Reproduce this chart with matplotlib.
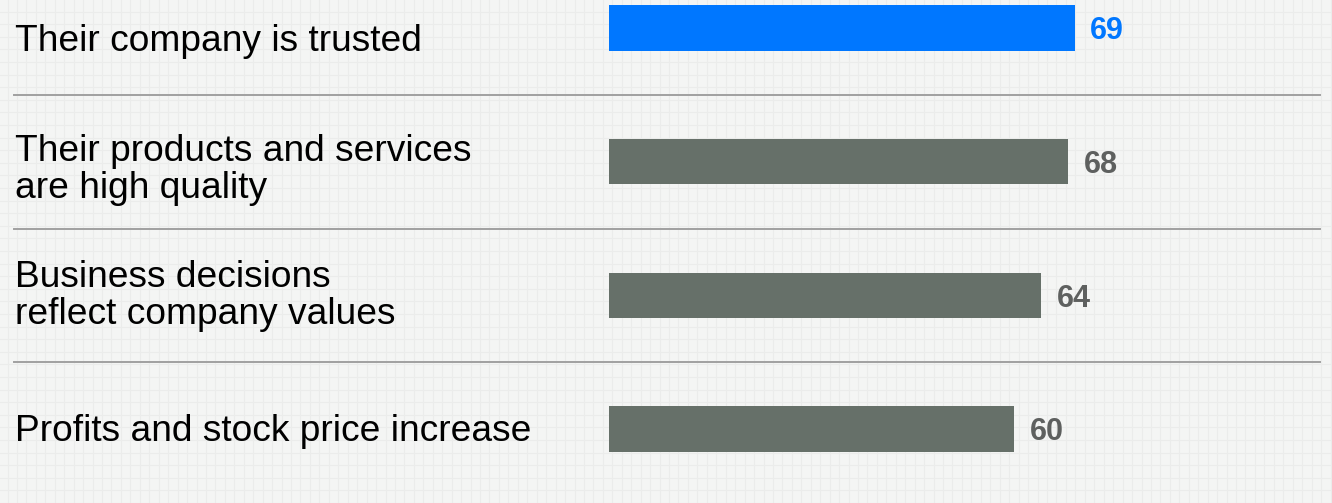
import matplotlib
matplotlib.use("Agg")
import matplotlib.pyplot as plt
import numpy as np

labels = [
    "Their company is trusted",
    "Their products and services\nare high quality",
    "Business decisions\nreflect company values",
    "Profits and stock price increase",
]
values = [69, 68, 64, 60]
highlight = 0

blue = "#0077FF"
gray = "#667069"
bg = "#F4F5F4"

plt.rcParams["font.family"] = ["Liberation Sans", "DejaVu Sans"]

W, H = 1332, 503
fig = plt.figure(figsize=(W / 100, H / 100), dpi=100)
fig.patch.set_facecolor(bg)

# faint tiled grid in the background
bgax = fig.add_axes([0, 0, 1, 1], zorder=0)
bgax.set_xlim(0, W)
bgax.set_ylim(H, 0)
bgax.axis("off")
for gx in np.arange(7.5, W, 9.45):
    bgax.axvline(gx, color="#EBECEB", lw=0.8)
for gy in np.arange(11.5, H, 12.6):
    bgax.axhline(gy, color="#EBECEB", lw=0.8)

# bars start at x=609px
x0 = 609 / W
ax = fig.add_axes([x0, 0, 1 - x0, 1], zorder=2)
ax.patch.set_alpha(0)
ax.set_xlim(0, (W - 609) / 6.75)
row = 133.67
ax.set_ylim((H - 28) / row, -28 / row)
ax.axis("off")

ypos = np.arange(len(values))
colors = [blue if i == highlight else gray for i in range(len(values))]
ax.barh(ypos, values, height=0.337, color=colors)

for i, v in enumerate(values):
    c = blue if i == highlight else "#5E605F"
    ax.text(v + 2.3, i + 0.025, str(v), ha="left", va="center",
            fontsize=22, fontweight="bold", color=c)

# labels and separators in pixel coordinates of the background axes
lab_off = [13, 8, 1, 2]
for i, lab in enumerate(labels):
    yc = 28 + row * i + lab_off[i]
    bgax.text(15, yc, lab, ha="left", va="center", fontsize=26.7,
              color="black", linespacing=1.08, zorder=3)

for i in range(len(values) - 1):
    ys = 28 + row * (i + 0.5)
    bgax.plot([14, 1320], [ys, ys], color="#A0A0A0", lw=1.4, zorder=3)

fig.savefig("out.png", dpi=100, facecolor=bg)
